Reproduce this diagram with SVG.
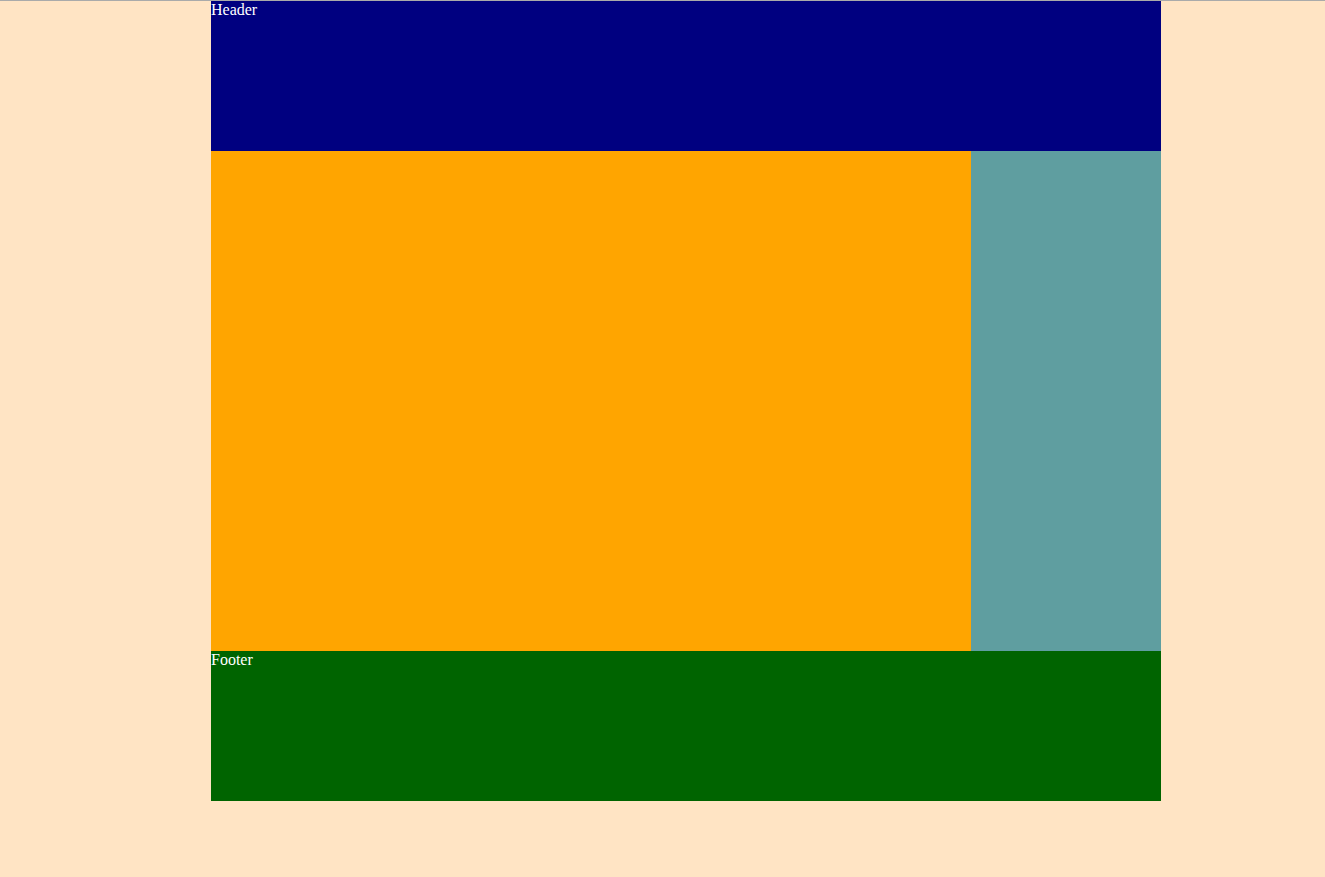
<svg xmlns="http://www.w3.org/2000/svg" width="1325" height="877" viewBox="0 0 1325 877">
<style>
.lbl{font-family:"Liberation Serif","Times New Roman",serif;font-size:16px;fill:#ffffff}
</style>
<rect x="0" y="0" width="1325" height="877" fill="#FFE4C4"/>
<rect x="0" y="0" width="1325" height="1" fill="#aaaaaa"/>
<g id="header">
<rect x="211" y="1" width="950" height="150" fill="#000080"/>
<text class="lbl" x="211" y="15">Header</text>
</g>
<g id="main">
<rect x="211" y="151" width="760" height="500" fill="#FFA500"/>
</g>
<g id="sidebar">
<rect x="971" y="151" width="190" height="500" fill="#5F9EA0"/>
</g>
<g id="footer">
<rect x="211" y="651" width="950" height="150" fill="#006400"/>
<text class="lbl" x="211" y="665">Footer</text>
</g>
<g id="connectors"/>
</svg>
